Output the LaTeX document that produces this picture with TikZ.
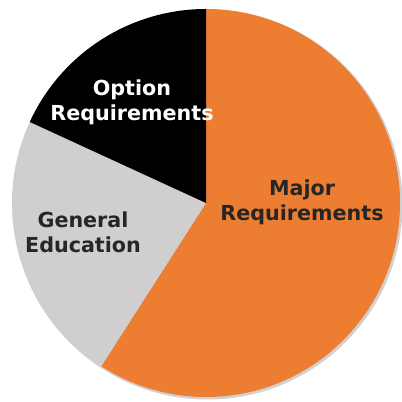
\documentclass[tikz,border=0pt]{standalone}
\usepackage{fontspec}
\setmainfont{DejaVu Sans}
\definecolor{majororange}{HTML}{ED7D31}
\definecolor{gengray}{HTML}{D0CECE}
\definecolor{labeldark}{HTML}{262626}

\begin{document}
\begin{tikzpicture}[
        x=0.75pt, y=0.75pt,
        every node/.style={align=center, font=\bfseries\fontsize{15.5}{18.75}\selectfont}, % slice labels
        dark label/.style={text=labeldark},
        light label/.style={text=white}
    ]
    \useasboundingbox (0,0) rectangle (401,402);
    \coordinate (centre) at (206,199);
    % soft shadow under the pie
    \fill[black!18] ([shift={(1.5,-1.5)}]centre) circle[radius=195];
    % slices, clockwise from the top
    \fill[majororange] (centre) -- ++(90:194) arc[start angle=90, end angle=-122.7, radius=194] -- cycle;
    \fill[gengray] (centre) -- ++(-122.7:194) arc[start angle=237.3, end angle=155.3, radius=194] -- cycle;
    \fill[black] (centre) -- ++(155.3:194) arc[start angle=155.3, end angle=90, radius=194] -- cycle;
    % labels
    \node[light label] (option) at (132,300) {Option\\Requirements};
    \node[dark label] (major) at (302,200) {Major\\Requirements};
    \node[dark label] (general) at (83,170) {General\\Education};
\end{tikzpicture}
\end{document}
